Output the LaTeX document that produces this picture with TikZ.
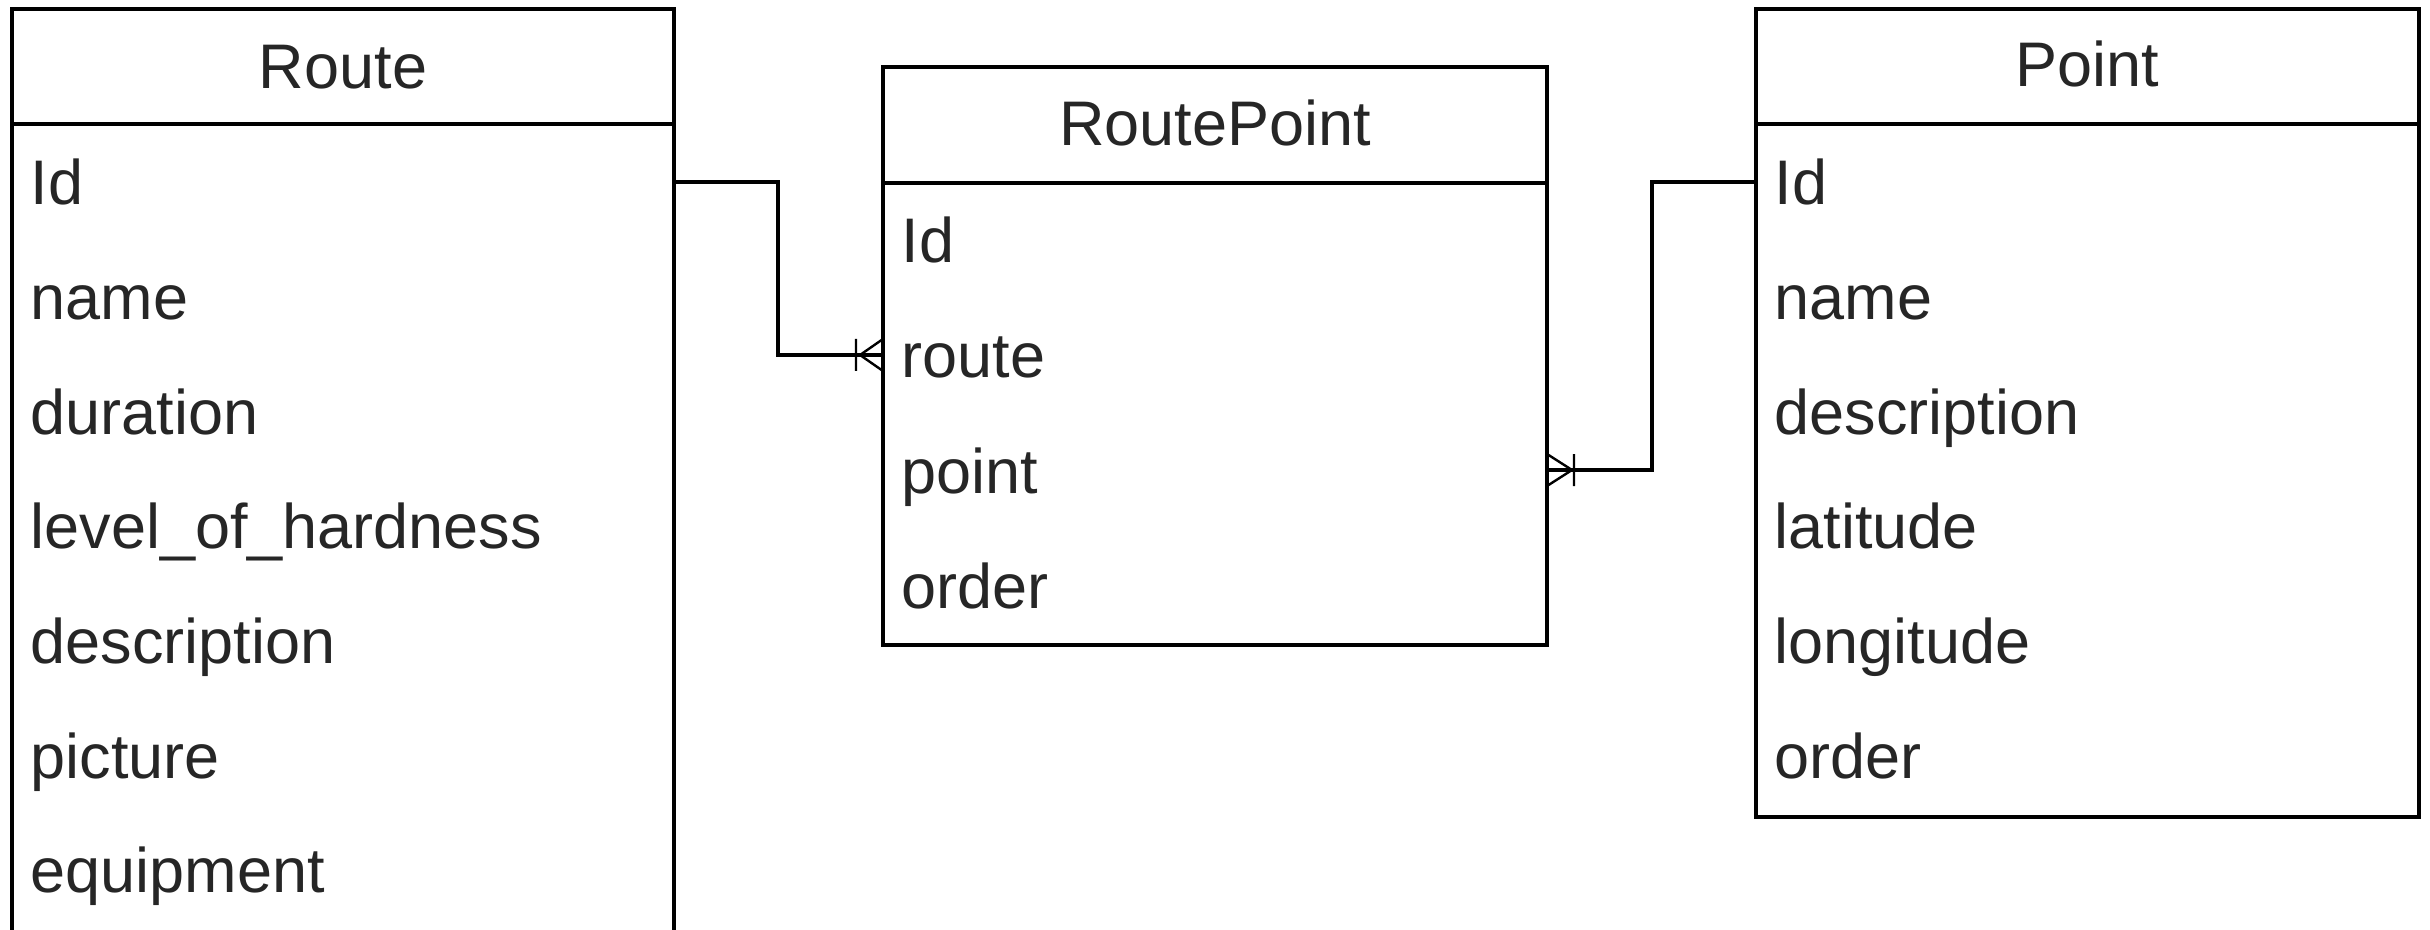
\documentclass[tikz,border=0pt]{standalone}
\usepackage{fontspec}
\setmainfont{Liberation Sans}
\usetikzlibrary{calc}
\begin{document}
\begin{tikzpicture}[x=0.5pt,y=-0.5pt,line width=1.65pt,
  txt/.style={font=\fontsize{31.5pt}{36pt}\selectfont, text=black!85},
  box/.style={draw, inner sep=0pt, outer sep=0pt, anchor=north west},
  head/.style={txt, anchor=base, inner sep=0pt},
  field/.style={txt, anchor=west, inner sep=0pt, text height=23pt, text depth=0pt},
  conn/.style={line width=1.65pt},
  foot/.style={line width=1.2pt}]
\clip (0,0) rectangle (2430,930);
\fill[white] (0,0) rectangle (2430,930);

% Route table
\node[box, minimum width=331pt, minimum height=57.5pt] (routeH) at (12,9) {};
\node[box, minimum width=331pt, minimum height=450pt] (routeB) at (12,124) {};
\node[head] (routeT) at (343,89) {Route};
\node[field] (rId) at (29,182) {Id};
\node[field] (rName) at (29,296.6) {name};
\node[field] (rDuration) at (29,411.2) {duration};
\node[field] (rLevel) at (29,525.8) {level\_of\_hardness};
\node[field] (rDesc) at (29,640.4) {description};
\node[field] (rPicture) at (29,755) {picture};
\node[field] (rEquip) at (29,869.6) {equipment};

% RoutePoint table
\node[box, minimum width=332pt, minimum height=58pt] (rpH) at (883,67) {};
\node[box, minimum width=332pt, minimum height=231pt] (rpB) at (883,183) {};
\node[head] (rpT) at (1215,146) {RoutePoint};
\node[field] (rpId) at (900,240) {Id};
\node[field] (rpRoute) at (900,355) {route};
\node[field] (rpPoint) at (900,470) {point};
\node[field] (rpOrder) at (900,585) {order};

% Point table
\node[box, minimum width=331.5pt, minimum height=57.5pt] (pH) at (1756,9) {};
\node[box, minimum width=331.5pt, minimum height=346.5pt] (pB) at (1756,124) {};
\node[head] (pT) at (2087.5,87) {Point};
\node[field] (pId) at (1773,182) {Id};
\node[field] (pName) at (1773,296.6) {name};
\node[field] (pDesc) at (1773,411.2) {description};
\node[field] (pLat) at (1773,525.8) {latitude};
\node[field] (pLon) at (1773,640.4) {longitude};
\node[field] (pOrder) at (1773,755) {order};

% connectors
\coordinate (m1) at (778,0);
\coordinate (m2) at (1652,0);
\draw[conn] (rId -| routeB.east) -- (m1 |- rId) -- (m1 |- rpRoute) -- (rpRoute -| rpB.west) coordinate (E1);
\draw[conn] (pId -| pB.west) -- (m2 |- pId) -- (m2 |- rpPoint) -- (rpPoint -| rpB.east) coordinate (E2);
\draw[foot, shift={(E1)}] (-27,-16) -- (-27,16) (-23,0) -- (0,-16) (-23,0) -- (0,16);
\draw[foot, shift={(E2)}] (27,-16) -- (27,16) (25,0) -- (0,-16) (25,0) -- (0,16);
\end{tikzpicture}
\end{document}
